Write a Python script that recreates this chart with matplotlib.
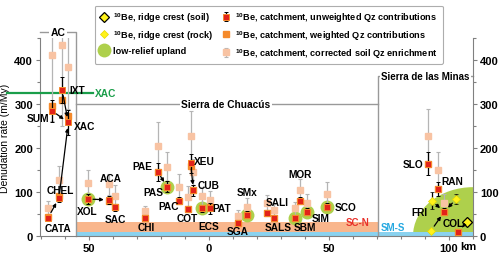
import matplotlib
matplotlib.use('Agg')
import matplotlib.pyplot as plt
from matplotlib.patches import Ellipse
from matplotlib.lines import Line2D
import numpy as np

plt.rcParams['font.family'] = ['Liberation Sans', 'DejaVu Sans']
plt.rcParams['mathtext.fontset'] = 'custom'
plt.rcParams['mathtext.rm'] = 'Liberation Sans'
plt.rcParams['mathtext.bf'] = 'Liberation Sans:bold'

# ---------------- data ----------------
samples = ["SUM", "IXT", "XAC", "CATA", "CHEL", "XOL", "ACA", "SAC", "CHI", "PAE",
           "PAS", "PAC", "COT", "XEU", "CUB", "ECS", "PAT", "SGA", "SMx", "SALI",
           "SALS", "SBM", "MOR", "SIM", "SCO", "SLO", "RAN", "COL", "COLc"]
distance_km = [-65.5, -61.2, -58.6, -67.0, -62.5, -50.6, -41.5, -39.0, -26.7, -21.4,
               -17.4, -12.4, -8.6, -7.6, -6.5, -2.8, 0.4, 12.0, 15.7, 24.3,
               27.1, 35.8, 37.9, 40.7, 49.3, 91.4, 95.6, 98.0, 103.9]
unweighted = [285, 332, 258, 42, 86, 84, 82, 65, 40, 146,
              112, 80, 62, 165, 104, 63, 63, 30, 48, 52,
              40, 40, 80, 55, 67, 164, 107, 55, 10]
unweighted_err = [25, 30, 28, 6, 8, 11, 9, 8, 6, 21,
                  12, 8, 7, 21, 12, 8, 12, 5, 8, 6,
                  5, 6, 8, 8, 8, 26, 16, 8, 3]
weighted = [296, 309, 273, 44, 90, 84, 80, 66, 40, 146,
            112, 80, 62, 160, 104, 63, 65, 30, 48, 52,
            40, 40, 80, 55, 67, 164, 107, 55, 10]
corrected = [412, 435, 383, 64, 127, 120, 118, 92, 56, 204,
             156, 111, 89, 228, 145, 90, 82, 46, 67, 74,
             58, 63, 105, 76, 95, 228, 150, 76, np.nan]
corrected_err = [150, 185, 95, 16, 33, 30, 24, 24, 13, 55,
                 35, 30, 25, 56, 30, 22, 20, 12, 20, 20,
                 14, 15, 25, 20, 28, 60, 40, 20, np.nan]
upland = [0, 0, 0, 0, 0, 1, 0, 0, 0, 0,
          1, 0, 0, 0, 0, 1, 0, 0, 1, 0,
          0, 1, 0, 1, 1, 0, 0, 0, 0]

rock_names = ["FRI", "FRIb", "COLr"]
rock_km = [92.8, 103.0, 92.5]
rock_rate = [80, 84, 12]
rock_err = [19, 12, 0]

soil_names = ["COLs"]
soil_km = [107.3]
soil_rate = [31]

arrows = [("CATA", "CHEL"), ("CHEL", "XAC"), ("SUM", "XAC"), ("IXT", "XAC"),
          ("XOL", "ACA"), ("PAE", "PAS"), ("XEU", "CUB"),
          ("FRI", "COL"), ("FRIb", "COL"), ("COLr", "COL"), ("COLs", "COLc")]

# label name -> offset in pixels from the sample marker
labels = {"SUM": (-14, -7), "IXT": (15, 0), "XAC": (16, -4), "CATA": (10, -10),
          "CHEL": (1, 8), "XOL": (0, -12), "ACA": (1, 22), "SAC": (0, -12),
          "CHI": (1, -9), "PAE": (-15, 6), "PAS": (-14, -5), "PAC": (-11, -5),
          "COT": (-1, -9), "XEU": (14, 2), "CUB": (15, 5), "ECS": (6, -18),
          "PAT": (12, 0), "SGA": (0, -8), "SMx": (0, 23), "SALI": (10, 11),
          "SALS": (4, -9), "SBM": (10, -9), "MOR": (0, 27), "SIM": (14, -6),
          "SCO": (18, 0), "SLO": (-15, 0), "RAN": (14, 8), "COL": (9, -11),
          "FRI": (-12, -11)}

xac_level = 325
chuacus_band = (8, 32)
minas_band = (0, 8)
ac_limit = -55.4
minas_limit = 70.4
upland_center = (110.0, 0)
upland_half = (25.0, 111.0)

xticks = [-50, 0, 50, 100]
xticklabels = ["50", "0", "50", "100"]
yticks = [0, 100, 200, 300, 400]

# ---------------- colors ----------------
RED = '#e2231a'
ORANGE = '#f58a2b'
PEACH = '#f8c3a3'
GREEN = '#aed04c'
YELLOW = '#fff21a'
ORBAND = '#f9b68c'
BLBAND = '#8ad2ef'
GRAY = '#999999'

fig = plt.figure(figsize=(5, 2.55), dpi=100)
ax = fig.add_axes([40/500, 1-237/255, (473-40)/500, (237-39)/255])
ax.set_xlim(-70.4, 110)
ax.set_ylim(0, 450)

# bands and regions
ax.fill_between([ac_limit, minas_limit], chuacus_band[0], chuacus_band[1],
                color=ORBAND, lw=0, zorder=1)
ax.add_patch(Ellipse(upland_center, 2*upland_half[0], 2*upland_half[1],
                     color=GREEN, lw=0, zorder=1))
ax.fill_between([ac_limit, 110], minas_band[0], minas_band[1],
                color=BLBAND, lw=0, zorder=1.5)

# brackets
kw = dict(color=GRAY, lw=1, clip_on=False, zorder=2)
ax.plot([-70.4, ac_limit, ac_limit], [464, 464, 0], **kw)
ax.plot([ac_limit, minas_limit], [300, 300], **kw)
ax.plot([minas_limit, minas_limit, 110], [0, 364, 364], **kw)
tkw = dict(fontweight='bold', ha='center', va='center', zorder=3,
           bbox=dict(fc='white', ec='none', pad=1))
ax.text(-63, 464, "AC", fontsize=7.5, **tkw)
ax.text(7, 300, "Sierra de Chuacús", fontsize=7.3, **tkw)
ax.text(90.2, 364, "Sierra de las Minas", fontsize=7.0, **tkw)

# XAC level
ax.plot([-84, -48.3], [xac_level, xac_level], color='#1a9e4a', lw=1.6,
        clip_on=False, zorder=3)
ax.text(-47.5, xac_level, "XAC", color='#1a9e4a', fontsize=7.3,
        fontweight='bold', va='center', ha='left', zorder=3)
ax.text(61.7, 32, "SC-N", color='#e8312a', fontsize=7, fontweight='bold',
        ha='center', va='center', zorder=3)
ax.text(76.8, 20, "SM-S", color='#27a9e1', fontsize=7, fontweight='bold',
        ha='center', va='center', zorder=3)

x = np.array(distance_km)
up = np.array(upland, dtype=bool)
ax.plot(x[up], np.array(unweighted)[up], 'o', ms=10, color=GREEN, mew=0, zorder=3)

pe = ax.errorbar(x, corrected, yerr=corrected_err, fmt='s', ms=4, mfc=PEACH,
                 mec=PEACH, ecolor='#b5b5b5', elinewidth=0.9, capsize=1.3,
                 capthick=0.8, zorder=4)
ax.plot(x, weighted, 's', ms=5, mfc=ORANGE, mec=ORANGE, zorder=5,
        linestyle='none')
re = ax.errorbar(x, unweighted, yerr=unweighted_err, fmt='s', ms=4.2, mfc=RED,
                 mec=ORANGE, mew=0.7, ecolor='black', elinewidth=0.9,
                 capsize=1.3, capthick=0.8, zorder=6)

ax.errorbar(rock_km, rock_rate, yerr=rock_err, fmt='D', ms=4.5, mfc=YELLOW,
            mec='#e6d800', mew=0.5, ecolor='black', elinewidth=0.9, capsize=1.3,
            capthick=0.8, zorder=6)
ax.plot(soil_km, soil_rate, 'D', ms=5, mfc=YELLOW, mec='black', mew=0.9, zorder=6,
        clip_on=False)

pos = {n: (k, v) for n, k, v in zip(samples, distance_km, unweighted)}
pos.update({n: (k, v) for n, k, v in zip(rock_names, rock_km, rock_rate)})
pos.update({n: (k, v) for n, k, v in zip(soil_names, soil_km, soil_rate)})

for a, b in arrows:
    ax.annotate('', xy=pos[b], xytext=pos[a],
                arrowprops=dict(arrowstyle='-|>', color='black', lw=0.9,
                                shrinkA=4, shrinkB=4, mutation_scale=5),
                zorder=7)

for name, (dx, dy) in labels.items():
    ax.annotate(name, xy=pos[name], xytext=(dx, dy), textcoords='offset pixels',
                fontsize=7.3, fontweight='bold', ha='center', va='center',
                zorder=8, annotation_clip=False)

# axes styling
ax.spines['top'].set_visible(False)
for s in ['left', 'right', 'bottom']:
    ax.spines[s].set_color('#808080')
    ax.spines[s].set_linewidth(0.8)
ax.set_xticks(xticks)
ax.set_xticklabels(xticklabels)
ax.set_xticks(np.arange(-70, 111, 10), minor=True)
ax.set_yticks(yticks)
ax.set_yticks([50, 150, 250, 350, 450], minor=True)
ax.tick_params(axis='both', which='both', direction='out', colors='#808080',
               labelcolor='black', labelsize=8, length=3, width=0.8,
               right=True, labelright=True, pad=2)
ax.tick_params(axis='both', which='minor', length=2)
for t in ax.get_xticklabels() + ax.get_yticklabels():
    t.set_fontweight('bold')
for tk in ax.yaxis.get_major_ticks():
    tk.label2.set_fontweight('bold')
ax.annotate('km', xy=(100, 0), xycoords=('data', 'axes fraction'), xytext=(11, -5),
            textcoords='offset pixels', fontsize=8, fontweight='bold',
            ha='left', va='top')
ax.set_ylabel("Denudation rate (m/My)", fontsize=7.5, labelpad=3)

# legend
h_soil = Line2D([], [], marker='D', ls='none', ms=5, mfc=YELLOW, mec='black', mew=0.9)
h_rock = Line2D([], [], marker='D', ls='none', ms=4.5, mfc=YELLOW, mec='#e6d800', mew=0.5)
h_up = Line2D([], [], marker='o', ls='none', ms=10, color=GREEN, mew=0)
h_or = Line2D([], [], marker='s', ls='none', ms=5, mfc=ORANGE, mec=ORANGE)
be = r'$^{\mathbf{10}}$Be, '
handles = [h_soil, h_rock, h_up, re, h_or, pe]
texts = [be + 'ridge crest (soil)', be + 'ridge crest (rock)', 'low-relief upland',
         be + 'catchment, unweighted Qz contributions',
         be + 'catchment, weighted Qz contributions',
         be + 'catchment, corrected soil Qz enrichment']
leg = fig.legend(handles, texts, loc='upper left', bbox_to_anchor=(90/500, 1-2/255),
                 ncol=2, prop={'weight': 'bold', 'size': 6.6}, frameon=True,
                 edgecolor=GRAY, fancybox=True, handlelength=1.0,
                 handletextpad=0.5, columnspacing=0.9, labelspacing=0.45,
                 borderpad=0.5)
leg.get_frame().set_linewidth(0.8)

fig.savefig('out.png', dpi=100)
